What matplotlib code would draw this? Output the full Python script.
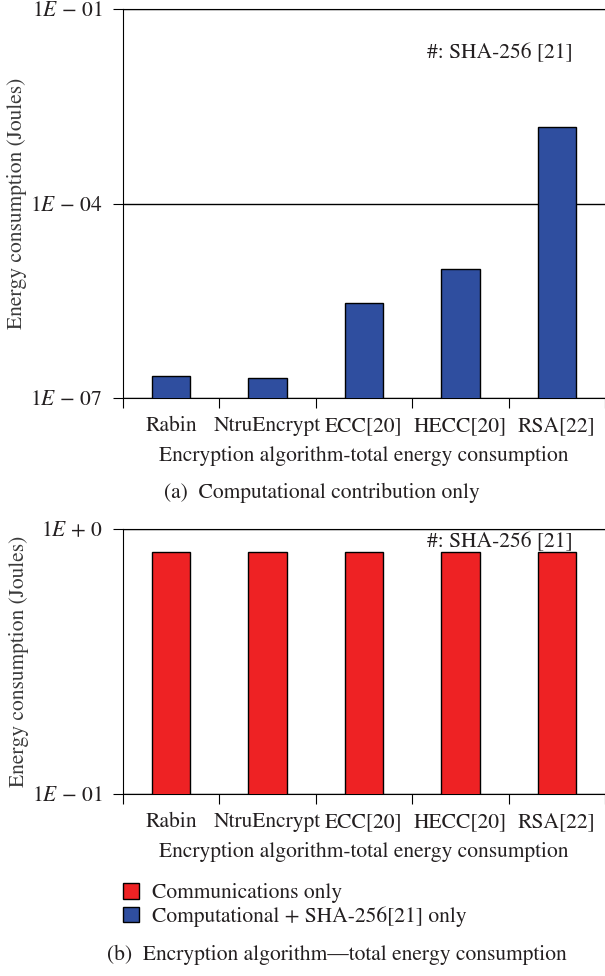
import matplotlib
matplotlib.use("Agg")
import matplotlib.pyplot as plt
import numpy as np
from matplotlib.patches import Patch

plt.rcParams['font.family'] = ['STIXGeneral', 'DejaVu Serif']
plt.rcParams['mathtext.fontset'] = 'stix'
plt.rcParams['text.color'] = '#231F20'
plt.rcParams['axes.labelcolor'] = '#231F20'
plt.rcParams['xtick.color'] = '#231F20'
plt.rcParams['ytick.color'] = '#231F20'

algorithms = ["Rabin", "NtruEncrypt", "ECC[20]", "HECC[20]", "RSA[22]"]
# (a) computational + SHA-256 energy, Joules
computational = [2.2e-7, 2.0e-7, 2.9e-6, 9.7e-6, 1.5e-3]
# (b) communications energy, Joules
communications = [0.82, 0.82, 0.82, 0.82, 0.82]

blue = "#2F4E9F"
red = "#EE2224"
fs = 15.5

fig = plt.figure(figsize=(6.05, 9.76), dpi=100)
W, H = 605, 976

def make_axes(left, top, bottom):
    return fig.add_axes([left / W, 1 - bottom / H, 1 - left / W, (bottom - top) / H])

ax1 = make_axes(123, 9, 398)
ax2 = make_axes(123, 529, 794)

x = np.arange(len(algorithms)) + 0.5

def style(ax, ticks, ticklabels, lo, hi):
    ax.set_yscale("log")
    ax.set_ylim(lo, hi)
    ax.set_xlim(0, len(algorithms))
    ax.set_yticks(ticks)
    ax.set_yticklabels(ticklabels, fontsize=fs)
    ax.yaxis.set_minor_locator(matplotlib.ticker.NullLocator())
    ax.set_xticks(np.arange(len(algorithms) + 1))
    ax.set_xticklabels([])
    ax.set_xticks(x, minor=True)
    ax.set_xticklabels(algorithms, minor=True, fontsize=fs)
    ax.tick_params(axis="x", which="minor", length=0, pad=13)
    ax.tick_params(axis="x", which="major", length=7, direction="out", color="black")
    ax.tick_params(axis="y", length=7, direction="out", pad=8, color="black")
    ax.spines["right"].set_visible(False)
    ax.yaxis.grid(True, color="black", linewidth=1.0)
    ax.set_axisbelow(True)
    ax.set_xlabel("Encryption algorithm-total energy consumption", fontsize=fs, labelpad=7)
    ax.set_ylabel("Energy consumption (Joules)", fontsize=fs, color="#3a3a3a", labelpad=2)

ax1.bar(x, computational, width=0.4, color=blue, edgecolor="black", linewidth=1.0, zorder=3)
style(ax1, [1e-7, 1e-4, 1e-1], ["1$E$ − 07", "1$E$ − 04", "1$E$ − 01"], 1e-7, 1e-1)
ax1.text(4.67, 10**-1.68, "#: SHA-256 [21]", fontsize=fs, ha="right", va="center")

ax2.bar(x, communications, width=0.4, color=red, edgecolor="black", linewidth=1.0, zorder=3)
style(ax2, [1e-1, 1e0], ["1$E$ − 01", "1$E$ + 0"], 1e-1, 1e0)
ax2.text(4.67, 10**-0.05, "#: SHA-256 [21]", fontsize=fs, ha="right", va="center", zorder=4)

fig.text(322 / W, 1 - 493 / H, "(a)  Computational contribution only", fontsize=fs, ha="center", va="center")

handles = [Patch(facecolor=red, edgecolor="black", label="Communications only"),
           Patch(facecolor=blue, edgecolor="black", label="Computational + SHA-256[21] only")]
fig.legend(handles=handles, loc="upper left", bbox_to_anchor=(112 / W, 1 - 872 / H),
           frameon=False, fontsize=fs, handlelength=0.75, handleheight=0.75,
           handletextpad=0.6, labelspacing=0.15, borderpad=0)

fig.text(337 / W, 1 - 955 / H, "(b)  Encryption algorithm\u2014total energy consumption",
         fontsize=fs, ha="center", va="center")

fig.savefig("out.png", dpi=100)
